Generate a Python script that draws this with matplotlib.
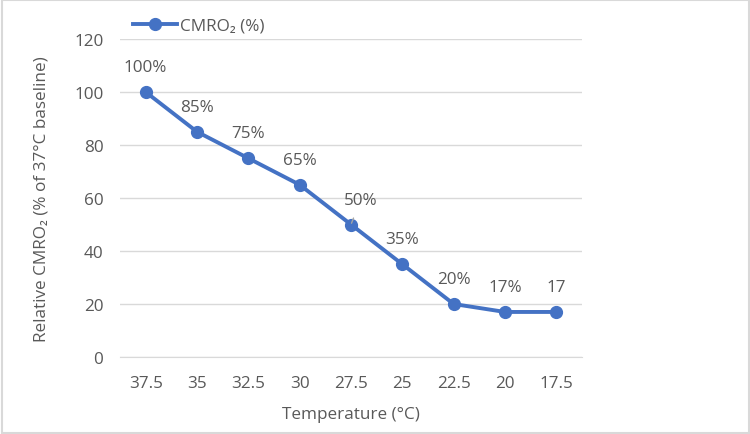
import matplotlib

matplotlib.use("Agg")
import matplotlib.pyplot as plt
from matplotlib.patches import Rectangle

# Chart data
temperatures = ["37.5", "35", "32.5", "30", "27.5", "25", "22.5", "20", "17.5"]
cmro2_pct = [100, 85, 75, 65, 50, 35, 20, 17, 17]
point_labels = ["100%", "85%", "75%", "65%", "50%", "35%", "20%", "17%", "17"]

BLUE = "#4472C4"
TEXT = "#595959"
GRID = "#D9D9D9"
FS = 12.3

plt.rcParams["font.family"] = ["Open Sans", "DejaVu Sans"]

fig = plt.figure(figsize=(7.5, 4.35), dpi=100)
ax = fig.add_axes([0.16, 0.177, 0.616, 0.731])

x = list(range(len(temperatures)))
line, = ax.plot(x, cmro2_pct, color=BLUE, linewidth=2.8, marker="o",
                markersize=8.5, label="CMRO\u2082 (%)", zorder=3)

# Data labels above each point; the 50% one is nudged with a leader line.
for i, (v, txt) in enumerate(zip(cmro2_pct, point_labels)):
    if txt == "50%":
        ax.annotate(txt, (i, v), xytext=(7, 18), textcoords="offset points",
                    ha="center", va="center", fontsize=FS, color=TEXT,
                    arrowprops=dict(arrowstyle="-", color="#A6A6A6", lw=1.0,
                                    shrinkA=6, shrinkB=1))
    else:
        ax.annotate(txt, (i, v), xytext=(0, 18), textcoords="offset points",
                    ha="center", va="center", fontsize=FS, color=TEXT)

ax.set_xlim(-0.5, len(temperatures) - 0.5)
ax.set_ylim(0, 120)
ax.set_yticks(range(0, 121, 20))
ax.set_xticks(x)
ax.set_xticklabels(temperatures)
ax.tick_params(length=0, labelsize=FS, labelcolor=TEXT, pad=13)
ax.tick_params(axis="y", pad=12)
ax.grid(True, axis="y", color=GRID, linewidth=1)
ax.set_axisbelow(True)
for side in ("top", "right", "left"):
    ax.spines[side].set_visible(False)
ax.spines["bottom"].set_color(GRID)

ax.set_xlabel("Temperature (\u00b0C)", fontsize=FS, color=TEXT, labelpad=11)
ax.set_ylabel("Relative CMRO\u2082 (% of 37\u00b0C baseline)", fontsize=FS,
              color=TEXT, labelpad=18)

ax.legend(handles=[line], loc="lower left", bbox_to_anchor=(0.005, 0.985),
          frameon=False, fontsize=FS, labelcolor=TEXT, handlelength=2.6,
          handletextpad=0.2, borderaxespad=0.2)

# light frame around the whole chart
fig.patches.append(Rectangle((0.002, 0.003), 0.996, 0.994, transform=fig.transFigure,
                             fill=False, edgecolor=GRID, linewidth=1.5))

fig.savefig("out.png", dpi=100)
